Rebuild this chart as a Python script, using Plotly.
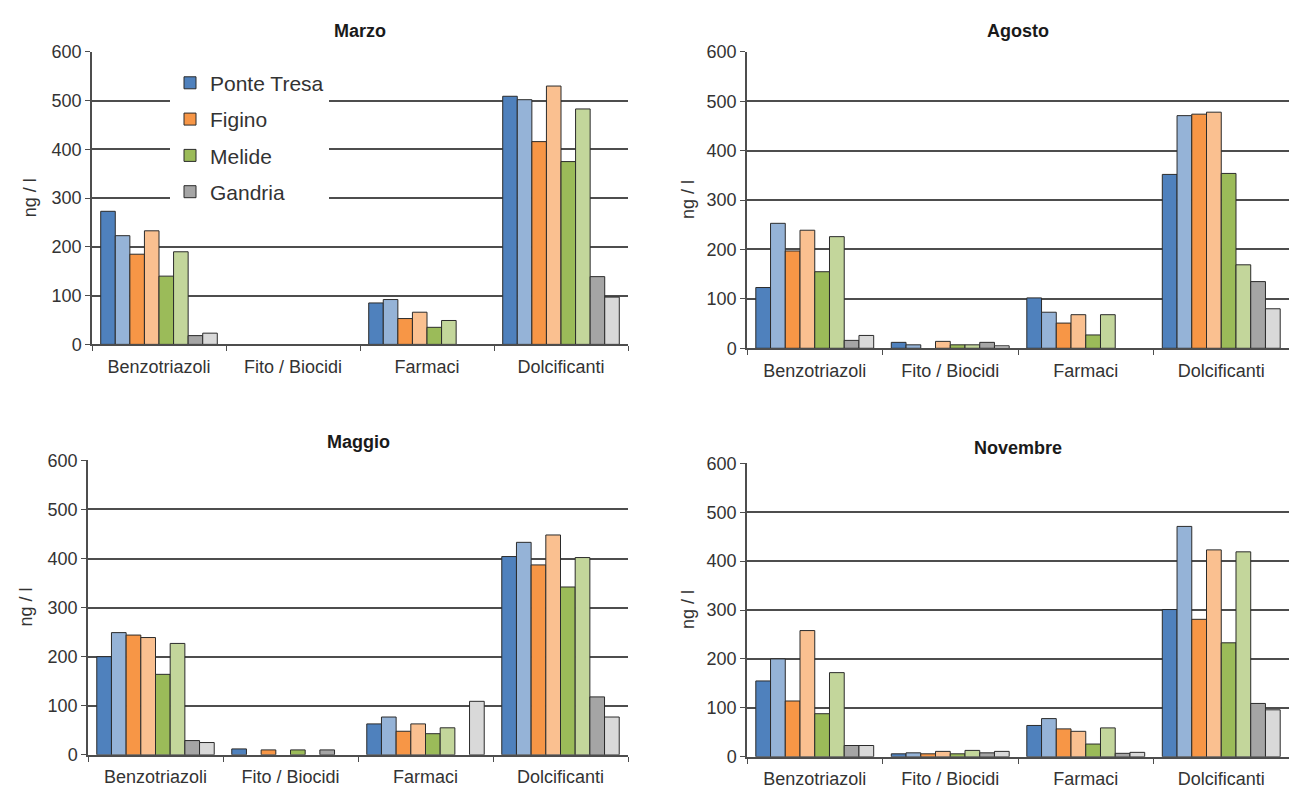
import plotly.graph_objects as go

# Categories along the x axis
categories = ["Benzotriazoli", "Fito / Biocidi", "Farmaci", "Dolcificanti"]

# Stations (two samples per station: darker and lighter shade)
stations = ["Ponte Tresa", "Figino", "Melide", "Gandria"]
dark_colors = ["#4F81BD", "#F79646", "#9BBB59", "#A5A5A5"]
light_colors = ["#95B3D7", "#FAC090", "#C3D69B", "#D9D9D9"]

# Concentrations in ng / l, rows ordered:
# PT dark, PT light, Figino dark, Figino light, Melide dark, Melide light, Gandria dark, Gandria light
marzo = [
    [273, None, 85, 509],
    [223, None, 92, 502],
    [185, None, 53, 416],
    [233, None, 66, 530],
    [140, None, 35, 375],
    [190, None, 49, 483],
    [18, None, None, 139],
    [23, None, None, 97],
]
agosto = [
    [123, 12, 102, 352],
    [253, 7, 73, 471],
    [197, None, 51, 474],
    [239, 14, 68, 478],
    [155, 7, 27, 354],
    [226, 7, 68, 169],
    [16, 12, None, 135],
    [26, 5, None, 80],
]
maggio = [
    [200, 12, 63, 404],
    [249, None, 77, 433],
    [244, 10, 48, 387],
    [239, None, 63, 448],
    [164, 10, 43, 342],
    [227, None, 55, 402],
    [29, 10, None, 118],
    [25, None, 109, 77],
]
novembre = [
    [155, 6, 64, 301],
    [200, 8, 78, 471],
    [114, 6, 57, 281],
    [258, 11, 52, 423],
    [88, 6, 26, 233],
    [172, 13, 59, 419],
    [23, 8, 7, 109],
    [23, 11, 9, 96],
]

W, H = 1289, 796
FONT = "Liberation Sans, Arial, sans-serif"
TXT = "#333333"
GRID = "#4d4d4d"

# panel: (title, data, x px range, y px of value 0, y px of value 600, title y px, axis-title x px)
panels = [
    ("Marzo", marzo, (92, 628), 343, 43, 22, 30),
    ("Agosto", agosto, (747, 1289), 347, 43, 22, 688),
    ("Maggio", maggio, (88, 628), 764, 462, 443, 26),
    ("Novembre", novembre, (747, 1289), 766, 465, 449, 688),
]

fig = go.Figure()
layout_axes = {}
annotations = []

for i, (title, data, (x0, x1), y0px, y600px, ty, atx) in enumerate(panels):
    n = i + 1
    xa = "x" if n == 1 else f"x{n}"
    ya = "y" if n == 1 else f"y{n}"
    for s in range(4):
        for shade in range(2):
            row = data[2 * s + shade]
            color = dark_colors[s] if shade == 0 else light_colors[s]
            fig.add_trace(go.Bar(
                x=categories, y=row, xaxis=xa, yaxis=ya,
                name=stations[s], legendgroup=stations[s],
                showlegend=(n == 1 and shade == 0),
                marker=dict(color=color, line=dict(color="#2b2b2b", width=1)),
            ))
    xk = "xaxis" if n == 1 else f"xaxis{n}"
    yk = "yaxis" if n == 1 else f"yaxis{n}"
    layout_axes[xk] = dict(
        domain=[x0 / W, min(x1 / W, 1.0)], anchor=ya,
        type="category", showline=True, linecolor=GRID, linewidth=1.5,
        ticks="outside", tickson="boundaries", ticklen=5, tickcolor=GRID,
        ticklabelstandoff=5,
        showgrid=False, tickfont=dict(family=FONT, size=18, color=TXT),
        fixedrange=True,
    )
    layout_axes[yk] = dict(
        domain=[1 - y0px / H, 1 - y600px / H], anchor=xa,
        range=[0, 600], tickvals=[0, 100, 200, 300, 400, 500, 600],
        showline=True, linecolor=GRID, linewidth=1.5,
        ticks="outside", ticklen=5, tickcolor=GRID,
        showgrid=True, gridcolor=GRID, gridwidth=1.5, zeroline=False,
        tickfont=dict(family=FONT, size=18, color=TXT), fixedrange=True,
    )
    annotations.append(dict(
        text=f"<b>{title}</b>", xref="paper", yref="paper",
        x=(x0 + min(x1, 1289)) / 2 / W, y=1 - ty / H, showarrow=False,
        xanchor="center", yanchor="middle",
        font=dict(family=FONT, size=18, color="#1a1a1a"),
    ))
    annotations.append(dict(
        text="ng / l", xref="paper", yref="paper", textangle=-90,
        x=atx / W, y=1 - (y0px + y600px) / 2 / H, showarrow=False,
        xanchor="center", yanchor="middle",
        font=dict(family=FONT, size=18, color=TXT),
    ))

fig.update_layout(
    width=W, height=H, margin=dict(l=0, r=0, t=0, b=0),
    paper_bgcolor="white", plot_bgcolor="white",
    barmode="group", bargap=0.13, bargroupgap=0,
    annotations=annotations,
    legend=dict(
        x=170 / W, y=1 - 54 / H, xanchor="left", yanchor="top",
        bgcolor="white", traceorder="grouped", tracegroupgap=6,
        font=dict(family=FONT, size=21, color=TXT),
        itemwidth=30,
    ),
    **layout_axes,
)

fig.write_html("out.html")
